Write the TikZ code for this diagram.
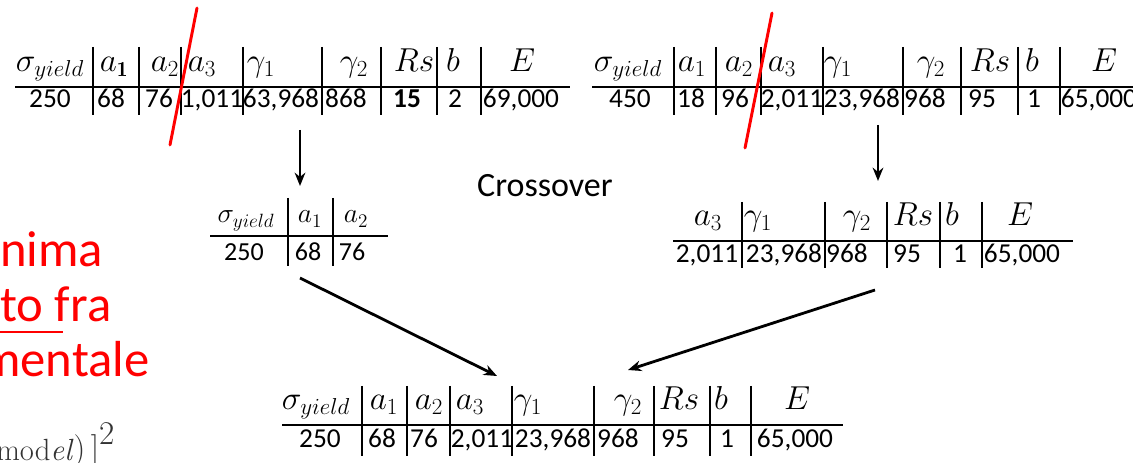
\documentclass[tikz,border=0pt]{standalone}
\usepackage{fontspec}
\newfontfamily\carlito{Carlito}
\usetikzlibrary{arrows.meta}

\begin{document}
\begin{tikzpicture}[x=0.75pt,y=-0.75pt,line join=round,>={Stealth[length=10pt,width=8pt]},
  num/.style={font=\carlito\fontsize{20.5}{24}\selectfont,anchor=base,inner sep=0pt},
  hd/.style={font=\fontsize{23}{26}\selectfont,anchor=base,inner sep=0pt},
  small/.style={font=\carlito\fontsize{19.5}{22}\selectfont,anchor=base,inner sep=0pt},
  smallhd/.style={font=\fontsize{22}{24}\selectfont,anchor=base,inner sep=0pt},
  rul/.style={line width=1.6pt},
  sep/.style={line width=1.3pt},
  cut/.style={red,line width=2.2pt,line cap=round},
  arr/.style={->,line width=2.1pt},
  redtxt/.style={font=\carlito\fontsize{38}{40}\selectfont,text=red,anchor=base west,inner sep=0pt}]
\useasboundingbox (0,0) rectangle (1133,463);

% parent 1
\draw[rul] (15,87) -- (570,87);
\foreach \x in {93,139,181,243,322,381,437,481} \draw[sep] (\x,47) -- (\x,115);
\foreach \x/\t [count=\i] in {50/\sigma_{yield},114/a_{\mathbf{1}},165/a_2,202/a_3,261/\gamma_1,354/\gamma_2,414/Rs,453/b,522/E}
  \node[hd] (pah\i) at (\x,72) {$\t$};
\foreach \x/\t [count=\i] in {50/250,111/68,159/76,212/{1,011},281/{63,968},346/868,407/\bfseries 15,455/2,521/{69,000}}
  \node[num] (pav\i) at (\x,108) {\t};

% parent 2
\draw[rul] (592,87) -- (1133,87);
\foreach \x in {674,716,761,823,903,961,1018,1060} \draw[sep] (\x,47) -- (\x,115);
\foreach \x/\t [count=\i] in {628/\sigma_{yield},692/a_1,739/a_2,782/a_3,838/\gamma_1,931/\gamma_2,990/Rs,1032/b,1104/E}
  \node[hd] (pbh\i) at (\x,72) {$\t$};
\foreach \x/\t [count=\i] in {630/450,691/18,735/96,792/{2,011},862/{23,968},925/968,982/95,1034/1,1099/{65,000}}
  \node[num] (pbv\i) at (\x,108) {\t};

% cut points
\draw[cut] (197,8) -- (170,145);
\draw[cut] (772,13) -- (745,148);

% child pieces
\draw[rul] (210,236) -- (388,236);
\foreach \x in {288,333} \draw[sep] (\x,198) -- (\x,266);
\foreach \x/\t [count=\i] in {246/\sigma_{yield},310/a_1,356/a_2}
  \node[smallhd] (cah\i) at (\x,223) {$\t$};
\foreach \x/\t [count=\i] in {244/250,308/68,352/76}
  \node[small] (cav\i) at (\x,261) {\t};

\draw[rul] (673,241) -- (1073,241);
\foreach \x in {742,825,887,940,982} \draw[sep] (\x,202) -- (\x,268);
\foreach \x/\t [count=\i] in {708/a_3,758/\gamma_1,857/\gamma_2,913/Rs,952/b,1020/E}
  \node[hd] (cbh\i) at (\x,226) {$\t$};
\foreach \x/\t [count=\i] in {707/{2,011},784/{23,968},847/968,907/95,960/1,1022/{65,000}}
  \node[num] (cbv\i) at (\x,263) {\t};

\node[font=\carlito\fontsize{25.5}{28}\selectfont,anchor=base,inner sep=0pt] (xo) at (545,197) {Crossover};

% offspring
\draw[rul] (282,425) -- (843,425);
\foreach \x in {362,407,450,512,594,654,710,751} \draw[sep] (\x,386) -- (\x,456);
\foreach \x/\t [count=\i] in {316/\sigma_{yield},384/a_1,429/a_2,470/a_3,528/\gamma_1,628/\gamma_2,679/Rs,721/b,797/E}
  \node[hd] (oh\i) at (\x,410) {$\t$};
\foreach \x/\t [count=\i] in {320/250,382/68,424/76,482/{2,011},553/{23,968},618/968,675/95,727/1,795/{65,000}}
  \node[num] (ov\i) at (\x,448) {\t};

% arrows
\coordinate (s1) at (300,130);
\coordinate (e1) at (300,186);
\coordinate (s2) at (878,125);
\coordinate (e2) at (878,181);
\coordinate (s3) at (300,278);
\coordinate (e3) at (497,376);
\coordinate (s4) at (875,290);
\coordinate (e4) at (628,370);
\draw[arr] (s1) -- (e1);
\draw[arr] (s2) -- (e2);
\draw[arr] (s3) -- (e3);
\draw[arr] (s4) -- (e4);

% left margin text
\begin{scope}
\clip (0,0) rectangle (1133,463);
\node[redtxt] (r1) at (0,267) {nima};
\node[redtxt] (r2) at (0,322) {to fra};
\node[redtxt] (r3) at (-20,377) {mentale};
\node[font=\fontsize{23}{26}\selectfont,text=black!80,anchor=base west,inner sep=0pt] (fm) at (-4,460) {mod\textit{el}$\Bigg)\,\Bigg]^{\textstyle 2}$};
\end{scope}
\draw[red,line width=2pt] (0,332) -- (63,332);
\end{tikzpicture}
\end{document}
